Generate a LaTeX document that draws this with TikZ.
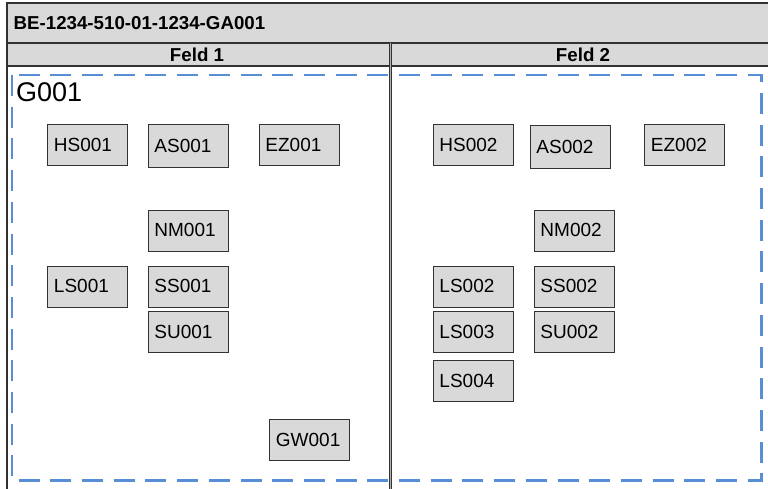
\documentclass[tikz,border=0pt]{standalone}
\usepackage{fontspec}
\setmainfont{Liberation Sans}
\usepackage{tikz}
\usetikzlibrary{positioning,calc}
\definecolor{kastengrau}{RGB}{217,217,217}
\definecolor{rahmenblau}{RGB}{88,142,214}
\definecolor{linie}{RGB}{50,50,50}

\begin{document}
\begin{tikzpicture}[x=1pt, y=-1pt,
    geraet/.style={draw=linie, line width=0.9pt, fill=kastengrau, anchor=north west,
      minimum height=41pt, text width=67pt, inner xsep=6.5pt, align=left,
      font=\fontsize{19}{21}\selectfont},
    kopf/.style={font=\bfseries\fontsize{18.7}{21}\selectfont, inner sep=0pt},
    gruppe/.style={draw=rahmenblau, line width=2.5pt, dash pattern=on 21pt off 10.7pt}]
  \useasboundingbox (0,0) rectangle (768,488);

  % The title bar and the field headers
  \fill[kastengrau] (7,3) rectangle (775,66);
  \draw[linie, line width=1.6pt] (7,492) -- (7,3) -- (775,3);
  \draw[linie, line width=2pt] (7,43) -- (775,43);
  \draw[linie, line width=1.2pt] (7,66) -- (775,66);
  \draw[linie, line width=0.8pt, double=gray!60, double distance=1pt] (390.7,43) -- (390.7,492);
  \node[kopf, anchor=base west] (titel) at (13.5,29.3) {BE-1234-510-01-1234-GA001};
  \node[kopf, anchor=base] (feld1) at (197,61) {Feld 1};
  \node[kopf, anchor=base] (feld2) at (583,61) {Feld 2};

  % The group frame
  \draw[gruppe] (12,75) rectangle (761.5,480.5);
  \node[anchor=base west, inner sep=0pt, font=\fontsize{27}{30}\selectfont] (g001) at (16,101.7) {G001};

  % Feld 1
  \foreach \name/\x/\y in {HS001/47/124, EZ001/258.5/124, NM001/147.5/209.5,
      LS001/47/265.5, SS001/147.5/265.5, SU001/147.5/311, GW001/269/419}
    \node[geraet] (\name) at (\x,\y) {\name};
  \node[geraet, minimum height=43pt] (AS001) at (147.5,124) {AS001};

  % Feld 2
  \foreach \name/\x/\y in {HS002/432.5/124, EZ002/644/124, NM002/533.5/209.5,
      LS002/432.5/265.5, SS002/533.5/265.5, LS003/432.5/311.3,
      SU002/533.5/311.3, LS004/432.5/360}
    \node[geraet] (\name) at (\x,\y) {\name};
  \node[geraet, minimum height=43pt] (AS002) at (529.5,125.3) {AS002};
\end{tikzpicture}
\end{document}
